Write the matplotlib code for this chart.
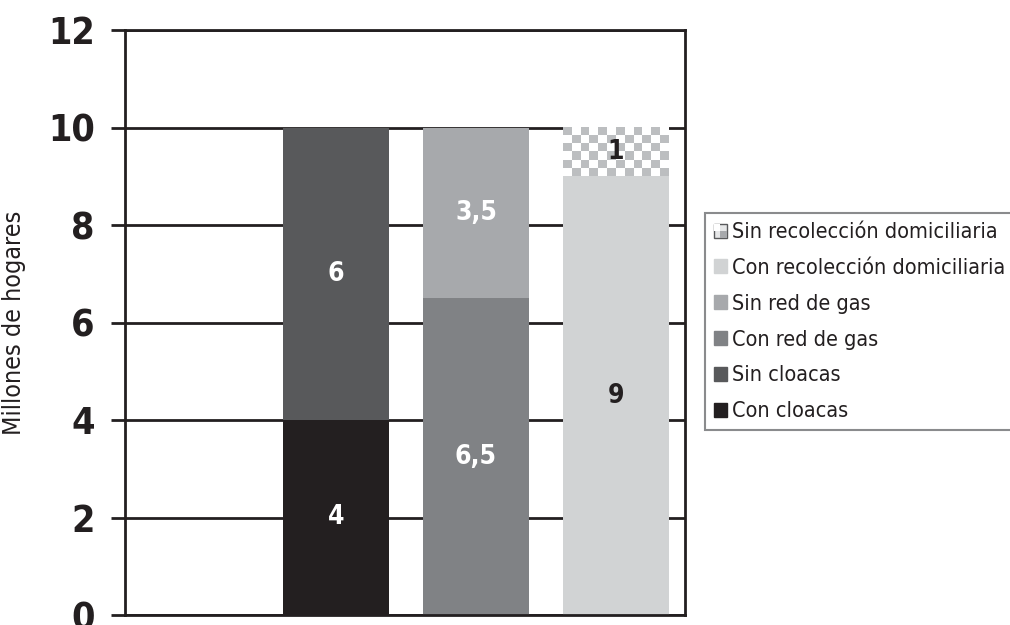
import numpy as np
import matplotlib
matplotlib.use("Agg")
import matplotlib.pyplot as plt
from matplotlib.patches import Rectangle
from matplotlib.legend_handler import HandlerBase
from matplotlib.colors import ListedColormap

plt.rcParams['font.family'] = ['DejaVu Sans']
plt.rcParams['font.stretch'] = 'condensed'

# data
categories = ['', 'Cloacas', 'Red de gas', 'Recolección']
con_vals = [0, 4, 6.5, 9]
sin_vals = [0, 6, 3.5, 1]
con_names = ['', 'Con cloacas', 'Con red de gas', 'Con recolección domiciliaria']
sin_names = ['', 'Sin cloacas', 'Sin red de gas', 'Sin recolección domiciliaria']
con_labels = ['', '4', '6,5', '9']
sin_labels = ['', '6', '3,5', '1']
yticks = [0, 2, 4, 6, 8, 10, 12]

con_colors = ['#ffffff', '#231f20', '#808285', '#d1d3d4']
sin_colors = ['#ffffff', '#58595b', '#a7a9ac', '#ffffff']
con_text = ['w', 'w', 'w', '#231f20']
sin_text = ['w', 'w', 'w', '#231f20']
checker_gray = '#bcbec0'

fig = plt.figure(figsize=(10.1, 6.25), dpi=100)
ax = fig.add_axes([0.124, 0.016, 0.554, 0.936])

x = np.arange(len(categories))
w = 0.757
for i in range(1, len(categories)):
    ax.bar(x[i], con_vals[i], w, color=con_colors[i], zorder=2)
    ax.bar(x[i], sin_vals[i], w, bottom=con_vals[i], color=sin_colors[i], zorder=2)
    ax.text(x[i], con_vals[i] / 2, con_labels[i], ha='center', va='center',
            color=con_text[i], fontsize=19, fontweight='bold', zorder=4)
    if i == 3:
        # checker pattern for the "sin recolección" segment
        board = ((np.indices((6, 12)).sum(axis=0) + 1) % 2).astype(float)
        ax.imshow(board, cmap=ListedColormap(['#ffffff', checker_gray]),
                  extent=(x[i] - w / 2, x[i] + w / 2, con_vals[i], con_vals[i] + sin_vals[i]),
                  aspect='auto', interpolation='nearest', zorder=3)
    ax.text(x[i], con_vals[i] + sin_vals[i] / 2, sin_labels[i], ha='center', va='center',
            color=sin_text[i], fontsize=19, fontweight='bold', zorder=4)

ax.set_xlim(-0.507, 3.493)
ax.set_ylim(0, 12)
ax.set_yticks(yticks)
ax.set_yticklabels([str(t) for t in yticks], fontsize=27, fontweight='bold', color='#231f20')
ax.set_xticks([])
ax.tick_params(axis='y', length=10, width=2, color='#231f20', pad=12)
for s in ax.spines.values():
    s.set_linewidth(2)
    s.set_color('#231f20')
ax.yaxis.grid(True, color='#231f20', linewidth=2)
ax.set_axisbelow(True)
ax.set_ylabel('Millones de hogares', fontsize=18, color='#231f20', labelpad=16)


class CheckerHandler(HandlerBase):
    def create_artists(self, legend, orig_handle, xd, yd, width, height, fontsize, trans):
        arts = [Rectangle((xd, yd), width, height, facecolor='#e6e7e8',
                          edgecolor='#58595b', lw=1, transform=trans)]
        arts.append(Rectangle((xd + width / 2, yd), width / 2, height / 2,
                              facecolor='#a7a9ac', edgecolor='none', transform=trans))
        arts.append(Rectangle((xd, yd + height / 2), width / 2, height / 2,
                              facecolor='#ffffff', edgecolor='none', transform=trans))
        return arts


checker_handle = Rectangle((0, 0), 1, 1)
handles = [checker_handle]
labels = [sin_names[3]]
handles.append(Rectangle((0, 0), 1, 1, color=con_colors[3]))
labels.append(con_names[3])
handles.append(Rectangle((0, 0), 1, 1, color=sin_colors[2]))
labels.append(sin_names[2])
handles.append(Rectangle((0, 0), 1, 1, color=con_colors[2]))
labels.append(con_names[2])
handles.append(Rectangle((0, 0), 1, 1, color=sin_colors[1]))
labels.append(sin_names[1])
handles.append(Rectangle((0, 0), 1, 1, color=con_colors[1]))
labels.append(con_names[1])

leg = fig.legend(handles, labels, loc='upper left', bbox_to_anchor=(0.698, 0.659),
                 fontsize=15.5, frameon=True, fancybox=False, edgecolor='#6d6e71',
                 handlelength=0.62, handleheight=0.62, handletextpad=0.25,
                 labelspacing=0.74, borderpad=0.4, borderaxespad=0,
                 handler_map={checker_handle: CheckerHandler()})
leg.get_frame().set_linewidth(1.5)
for t in leg.get_texts():
    t.set_color('#231f20')

fig.savefig('out.png', dpi=100)
